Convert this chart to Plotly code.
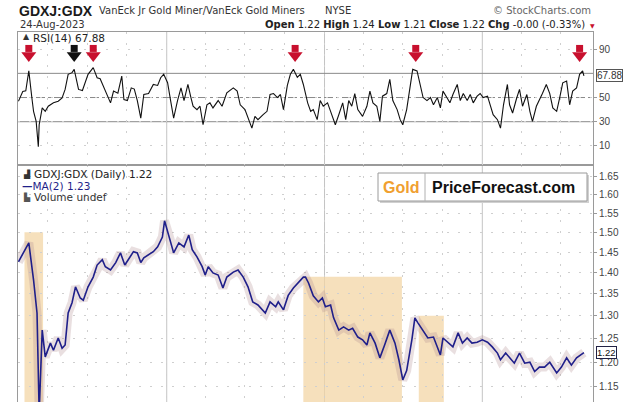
import math
import plotly.graph_objects as go

# ---------------- data ----------------
rsi_dates = [
    "2020-01-24", "2020-02-03", "2020-02-10", "2020-02-17", "2020-02-24", "2020-02-28", "2020-03-05",
    "2020-03-10", "2020-03-12", "2020-03-19", "2020-03-26", "2020-04-02", "2020-04-14", "2020-04-25",
    "2020-05-04", "2020-05-11", "2020-05-18", "2020-05-27", "2020-06-01", "2020-06-11", "2020-06-20",
    "2020-06-27", "2020-07-03", "2020-07-15", "2020-07-24", "2020-07-31", "2020-08-07", "2020-08-17",
    "2020-08-24", "2020-08-31", "2020-09-10", "2020-09-19", "2020-09-24", "2020-10-02", "2020-10-11",
    "2020-10-18", "2020-10-25", "2020-11-02", "2020-11-09", "2020-11-20", "2020-12-01", "2020-12-11",
    "2020-12-18", "2020-12-25", "2021-01-03", "2021-01-10", "2021-01-17", "2021-01-26", "2021-02-03",
    "2021-02-10", "2021-02-19", "2021-02-26", "2021-03-03", "2021-03-12", "2021-03-19", "2021-03-26",
    "2021-04-04", "2021-04-11", "2021-04-18", "2021-04-30", "2021-05-09", "2021-05-20", "2021-05-29",
    "2021-06-04", "2021-06-13", "2021-06-20", "2021-07-01", "2021-07-08", "2021-07-17", "2021-07-24",
    "2021-07-31", "2021-08-12", "2021-08-21", "2021-08-28", "2021-09-05", "2021-09-14", "2021-09-21",
    "2021-09-28", "2021-10-07", "2021-10-14", "2021-10-21", "2021-10-30", "2021-11-06", "2021-11-13",
    "2021-11-23", "2021-11-30", "2021-12-06", "2021-12-15", "2021-12-22", "2021-12-29", "2022-01-08",
    "2022-01-15", "2022-01-26", "2022-02-03", "2022-02-12", "2022-02-19", "2022-02-26", "2022-03-05",
    "2022-03-12", "2022-03-19", "2022-03-30", "2022-04-09", "2022-04-16", "2022-04-23", "2022-05-02",
    "2022-05-09", "2022-05-15", "2022-05-25", "2022-06-01", "2022-06-08", "2022-06-18", "2022-06-25",
    "2022-07-01", "2022-07-10", "2022-07-17", "2022-07-24", "2022-08-03", "2022-08-10", "2022-08-17",
    "2022-08-26", "2022-09-03", "2022-09-10", "2022-09-19", "2022-09-26", "2022-10-02", "2022-10-11",
    "2022-10-18", "2022-10-25", "2022-11-04", "2022-11-11", "2022-11-18", "2022-11-27", "2022-12-04",
    "2022-12-11", "2022-12-20", "2022-12-27", "2023-01-03", "2023-01-13", "2023-01-19", "2023-01-26",
    "2023-02-05", "2023-02-12", "2023-02-19", "2023-02-28", "2023-03-05", "2023-03-12", "2023-03-21",
    "2023-03-28", "2023-04-04", "2023-04-14", "2023-04-21", "2023-04-27", "2023-05-06", "2023-05-13",
    "2023-05-20", "2023-05-29", "2023-06-06", "2023-06-13", "2023-06-22", "2023-06-29", "2023-07-06",
    "2023-07-15", "2023-07-22", "2023-07-29", "2023-08-07", "2023-08-14", "2023-08-21", "2023-08-24",
]
rsi_vals = [
    46.9, 55.0, 55.5, 72.0, 50.0, 38.6, 30.3,
    9.4, 27.5, 41.4, 38.6, 42.8, 45.6, 46.9,
    49.7, 56.7, 69.2, 70.6, 73.3, 56.7, 55.8,
    62.2, 69.2, 74.7, 66.4, 65.6, 59.4, 51.1,
    45.6, 55.3, 53.6, 67.8, 48.3, 47.5, 58.0,
    57.0, 47.5, 33.0, 52.5, 53.3, 60.8, 60.0,
    66.4, 69.2, 62.2, 47.5, 33.0, 47.5, 58.0,
    47.5, 60.8, 50.0, 42.8, 40.0, 42.8, 27.5,
    44.0, 45.6, 41.4, 47.5, 42.8, 53.9, 56.7,
    58.0, 55.3, 44.0, 40.0, 33.0, 24.7, 34.4,
    31.7, 35.8, 38.6, 52.5, 53.3, 50.0, 52.5,
    40.0, 60.0, 69.2, 73.3, 66.7, 69.2, 60.8,
    45.6, 38.6, 40.0, 31.7, 47.5, 42.8, 45.6,
    38.6, 27.5, 35.8, 45.6, 31.7, 47.5, 42.8,
    53.3, 40.0, 34.4, 42.8, 55.3, 45.6, 42.8,
    30.3, 51.1, 53.3, 65.0, 47.5, 40.0, 31.7,
    27.5, 40.0, 55.3, 73.3, 72.0, 62.2, 50.0,
    47.5, 50.0, 44.0, 50.0, 41.4, 55.3, 50.0,
    45.6, 52.5, 60.8, 47.5, 53.3, 47.5, 52.5,
    45.6, 51.1, 53.3, 50.0, 51.1, 44.0, 35.8,
    31.7, 24.7, 44.0, 60.8, 44.0, 37.2, 49.0,
    56.7, 42.8, 52.5, 38.6, 30.3, 42.8, 47.5,
    53.3, 60.8, 53.3, 41.4, 38.6, 50.0, 62.2,
    63.6, 44.0, 55.3, 58.0, 69.2, 72.0, 67.88,
]

price_dates = [
    "2020-01-24", "2020-02-05", "2020-02-17", "2020-02-28", "2020-03-07", "2020-03-12", "2020-03-19",
    "2020-03-26", "2020-04-07", "2020-04-14", "2020-04-25", "2020-05-04", "2020-05-11", "2020-05-18",
    "2020-05-27", "2020-06-04", "2020-06-15", "2020-06-22", "2020-07-03", "2020-07-15", "2020-07-24",
    "2020-08-05", "2020-08-12", "2020-08-24", "2020-09-05", "2020-09-16", "2020-09-26", "2020-10-04",
    "2020-10-16", "2020-10-25", "2020-11-02", "2020-11-09", "2020-11-20", "2020-12-01", "2020-12-11",
    "2020-12-22", "2020-12-27", "2021-01-10", "2021-01-17", "2021-01-29", "2021-02-10", "2021-02-21",
    "2021-03-01", "2021-03-12", "2021-03-24", "2021-03-31", "2021-04-07", "2021-04-18", "2021-04-30",
    "2021-05-11", "2021-05-20", "2021-06-04", "2021-06-15", "2021-06-27", "2021-07-08", "2021-07-19",
    "2021-07-31", "2021-08-17", "2021-08-28", "2021-09-10", "2021-09-16", "2021-09-28", "2021-10-09",
    "2021-10-21", "2021-11-02", "2021-11-13", "2021-11-18", "2021-11-25", "2021-12-06", "2021-12-18",
    "2021-12-27", "2022-01-03", "2022-01-15", "2022-01-22", "2022-02-03", "2022-02-14", "2022-02-26",
    "2022-03-07", "2022-03-19", "2022-03-30", "2022-04-09", "2022-04-16", "2022-04-28", "2022-05-09",
    "2022-05-20", "2022-06-01", "2022-06-13", "2022-06-22", "2022-07-01", "2022-07-10", "2022-07-22",
    "2022-07-29", "2022-08-05", "2022-08-17", "2022-08-28", "2022-09-10", "2022-09-19", "2022-09-26",
    "2022-10-02", "2022-10-14", "2022-10-25", "2022-11-06", "2022-11-16", "2022-11-27", "2022-12-08",
    "2022-12-20", "2023-01-01", "2023-01-13", "2023-01-24", "2023-02-05", "2023-02-12", "2023-02-24",
    "2023-03-05", "2023-03-16", "2023-03-28", "2023-04-09", "2023-04-21", "2023-05-02", "2023-05-13",
    "2023-05-25", "2023-06-06", "2023-06-22", "2023-07-03", "2023-07-15", "2023-07-26", "2023-08-07",
    "2023-08-24",
]
price_vals = [
    1.426, 1.450, 1.473, 1.382, 1.306, 1.100, 1.268,
    1.211, 1.240, 1.225, 1.251, 1.229, 1.236, 1.306,
    1.329, 1.366, 1.340, 1.335, 1.366, 1.389, 1.418,
    1.431, 1.414, 1.406, 1.424, 1.448, 1.418, 1.431,
    1.451, 1.448, 1.424, 1.436, 1.443, 1.451, 1.463,
    1.488, 1.530, 1.478, 1.448, 1.473, 1.463, 1.493,
    1.456, 1.438, 1.414, 1.394, 1.414, 1.399, 1.394,
    1.363, 1.389, 1.401, 1.406, 1.389, 1.366, 1.331,
    1.324, 1.306, 1.331, 1.320, 1.331, 1.313, 1.346,
    1.363, 1.377, 1.389, 1.389, 1.375, 1.345, 1.331,
    1.340, 1.320, 1.324, 1.295, 1.268, 1.275, 1.268,
    1.272, 1.253, 1.247, 1.236, 1.262, 1.240, 1.209,
    1.236, 1.268, 1.240, 1.205, 1.164, 1.183, 1.247,
    1.295, 1.284, 1.268, 1.251, 1.253, 1.232, 1.215,
    1.251, 1.240, 1.232, 1.262, 1.240, 1.251, 1.240,
    1.242, 1.247, 1.242, 1.232, 1.219, 1.205, 1.219,
    1.209, 1.198, 1.219, 1.198, 1.200, 1.181, 1.190,
    1.190, 1.200, 1.178, 1.190, 1.209, 1.194, 1.209,
    1.220,
]

zone_starts = ["2020-02-07", "2021-11-13", "2022-08-07"]
zone_ends = ["2020-03-21", "2022-06-29", "2022-10-04"]
zone_tops = [1.50, 1.39, 1.30]

arrow_dates = ["2020-02-17", "2020-06-01", "2020-07-15", "2021-10-25", "2022-07-31", "2023-08-14"]
arrow_colors = ["#c8102e", "#111111", "#c8102e", "#c8102e", "#c8102e", "#c8102e"]

year_lines = ["2021-01-01", "2022-01-01", "2023-01-01"]
price_ticks = [1.15, 1.20, 1.25, 1.30, 1.35, 1.40, 1.45, 1.50, 1.55, 1.60, 1.65]
rsi_ticks = [10, 30, 50, 90]
rsi_levels = [70, 30, 50]

rsi_last = 67.88
close_last = 1.22
ma_last = 1.23

# ---------------- figure ----------------
W, H = 640, 402
ML, MR, MT, MB = 18, 47, 32, 0
PW, PH = W - ML - MR, H - MT - MB


def px(x):
    return (x - ML) / PW


def py(y):
    return (H - MB - y) / PH


split = py(165)
SANS = "DejaVu Sans"
ARIAL = "Liberation Sans, Arial"

fig = go.Figure()

# RSI line
fig.add_trace(go.Scatter(x=rsi_dates, y=rsi_vals, xaxis="x2", yaxis="y2", mode="lines",
                         line=dict(color="#111111", width=1.1), hoverinfo="skip"))
# arrows (shaft + head)
fig.add_trace(go.Scatter(x=arrow_dates, y=[90.6] * len(arrow_dates), xaxis="x2", yaxis="y2",
                         mode="markers", marker=dict(symbol="square", size=7, color=arrow_colors,
                                                     line=dict(width=0)), hoverinfo="skip"))
fig.add_trace(go.Scatter(x=arrow_dates, y=[84.8] * len(arrow_dates), xaxis="x2", yaxis="y2",
                         mode="markers", marker=dict(symbol="triangle-down", size=13, color=arrow_colors,
                                                     line=dict(width=0)), hoverinfo="skip"))

# price haze (daily range bars) + MA(2)
fig.add_trace(go.Scatter(x=price_dates, y=price_vals, mode="lines",
                         line=dict(color="rgba(175,140,145,0.28)", width=9), hoverinfo="skip"))
fig.add_trace(go.Scatter(x=price_dates, y=price_vals, mode="lines",
                         line=dict(color="#1f1f8a", width=1.6), hoverinfo="skip"))

shapes = []
for s, e, t in zip(zone_starts, zone_ends, zone_tops):
    shapes.append(dict(type="rect", xref="x", yref="y", x0=s, x1=e, y0=1.0, y1=t,
                       fillcolor="rgba(243,214,165,0.75)", line=dict(width=0), layer="below"))
for d in year_lines:
    shapes.append(dict(type="line", xref="x", yref="paper", x0=d, x1=d, y0=0, y1=1,
                       line=dict(color="#c4c4c4", width=1), layer="below"))
for lvl in rsi_levels:
    shapes.append(dict(type="line", xref="paper", yref="y2", x0=0, x1=1, y0=lvl, y1=lvl,
                       line=dict(color="#8a8a8a", width=1, dash="dashdot" if lvl == 50 else "solid"),
                       layer="below"))
# logo box
bx0, bx1, by0, by1 = px(378), px(587), py(201), py(173)
shapes.append(dict(type="rect", xref="paper", yref="paper", x0=bx0 + 2 / PW, x1=bx1 + 2 / PW,
                   y0=by0 - 2 / PH, y1=by1 - 2 / PH, fillcolor="#d0d0d0", line=dict(width=0)))
shapes.append(dict(type="rect", xref="paper", yref="paper", x0=bx0, x1=bx1, y0=by0, y1=by1,
                   fillcolor="white", line=dict(color="#9a9a9a", width=1)))
shapes.append(dict(type="line", xref="paper", yref="paper", x0=px(425), x1=px(425), y0=by0, y1=by1,
                   line=dict(color="#b0b0b0", width=1)))

ann = []


def text(x, y, s, size=10, color="#222", family=SANS, xanchor="left", **kw):
    ann.append(dict(xref="paper", yref="paper", x=px(x), y=py(y), text=s, showarrow=False,
                    xanchor=xanchor, yanchor="middle", font=dict(size=size, color=color, family=family), **kw))


text(17, 11, "<b>GDXJ:GDX</b>", size=14, color="#1a1a1a", family=ARIAL)
text(97, 11, "VanEck Jr Gold Miner/VanEck Gold Miners", size=10, color="#333")
text(323, 11, "NYSE", size=10, color="#333")
text(593, 11, "© StockCharts.com", size=10, color="#666", xanchor="right")
text(18, 25, "24-Aug-2023", size=10, color="#333")
text(587, 25, "<b>Open</b> 1.22 <b>High</b> 1.24 <b>Low</b> 1.21 <b>Close</b> 1.22 "
              "<b>Chg</b> -0.00 (-0.33%)", size=10, color="#222", xanchor="right")
text(592, 26, "▼", size=6, color="#c8102e", xanchor="center")

text(21, 37, "▲", size=8, color="#333")
text(31, 38, f"RSI(14) {rsi_last:.2f}", size=10.5, color="#222")

text(21, 174, "▟", size=8, color="#333")
text(32, 174, f"GDXJ:GDX (Daily) {close_last:.2f}", size=10.5, color="#222")
text(20, 186, f"<b>—</b>MA(2) {ma_last:.2f}", size=10.5, color="#1f1f8a")
text(21, 197, "▙", size=8, color="#555")
text(32, 197, "Volume undef", size=10.5, color="#333")

text(401, 187, "<b>Gold</b>", size=16, color="#f0a030", family=ARIAL, xanchor="center")
text(503, 187, "<b>PriceForecast.com</b>", size=16, color="#111", family=ARIAL, xanchor="center")

# last value tags
ann.append(dict(xref="paper", yref="y2", x=px(596), y=rsi_last, text=f"{rsi_last:.2f}",
                showarrow=False, xanchor="left", yanchor="middle", bgcolor="white",
                bordercolor="#555", borderwidth=1, borderpad=0,
                font=dict(size=10, color="#333", family=ARIAL)))
ann.append(dict(xref="paper", yref="y", x=px(596), y=math.log10(close_last), text=f"{close_last:.2f}",
                showarrow=False, xanchor="left", yanchor="middle", bgcolor="white",
                bordercolor="#222244", borderwidth=1, borderpad=0,
                font=dict(size=9.5, color="#111", family=ARIAL)))

grid = dict(showgrid=True, gridcolor="#cfcfcf", griddash="2px,9px", gridwidth=1)
xcommon = dict(type="date", range=["2020-01-23", "2023-09-14"], dtick="M3", tick0="2020-01-01",
               showticklabels=False, ticks="", showline=True, mirror=True, linecolor="#9a9a9a",
               zeroline=False, **grid)

fig.update_layout(
    width=W, height=H, margin=dict(l=ML, r=MR, t=MT, b=MB, pad=0),
    paper_bgcolor="white", plot_bgcolor="white", showlegend=False,
    xaxis=dict(anchor="y", domain=[0, 1], **xcommon),
    xaxis2=dict(anchor="y2", domain=[0, 1], matches="x", **xcommon),
    yaxis=dict(domain=[0, split], type="log",
               range=[math.log10(1.1207), math.log10(1.684)], side="right",
               tickvals=price_ticks, ticktext=[f"{v:.2f}" for v in price_ticks],
               ticks="outside", ticklen=3, tickcolor="#9a9a9a",
               tickfont=dict(size=10, color="#444", family=ARIAL),
               showline=True, mirror=True, linecolor="#9a9a9a", automargin=False,
               zeroline=False, **grid),
    yaxis2=dict(domain=[split, 1], range=[-5.8, 104.2], side="right",
                tickvals=rsi_ticks, ticks="outside", ticklen=3, tickcolor="#9a9a9a",
                tickfont=dict(size=10, color="#444", family=ARIAL),
                showline=True, mirror=True, linecolor="#9a9a9a", automargin=False,
                zeroline=False, **grid),
    shapes=shapes, annotations=ann,
)

fig.write_html("out.html")
